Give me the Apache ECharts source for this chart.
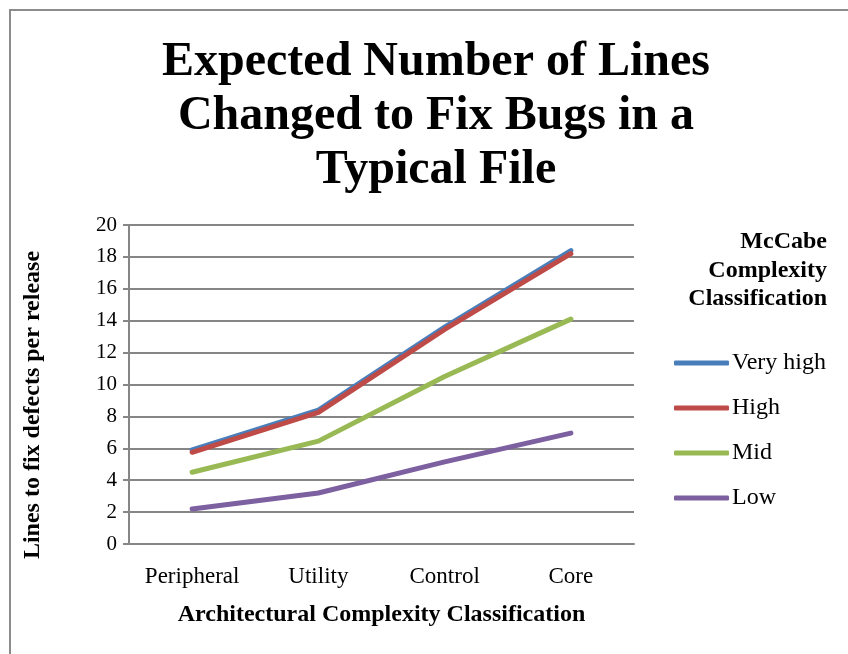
<!DOCTYPE html>
<html>
<head>
<meta charset="utf-8">
<script src="https://cdn.jsdelivr.net/npm/echarts@6/dist/echarts.min.js"></script>
<style>
  html, body { margin: 0; padding: 0; background: #fff; }
  #chart { width: 848px; height: 654px; }
</style>
</head>
<body>
<div id="chart"></div>
<script>
// Architectural classes along the x axis
const categories = ['Peripheral', 'Utility', 'Control', 'Core'];

// Lines changed per release, one series per McCabe class
const veryHigh = [5.9, 8.4, 13.6, 18.4];
const high = [5.75, 8.25, 13.45, 18.2];
const mid = [4.5, 6.45, 10.5, 14.1];
const low = [2.2, 3.2, 5.15, 6.95];

const yTicks = { min: 0, max: 20, interval: 2 };

const serif = '"Liberation Serif", "DejaVu Serif", serif';
const colors = ['#4A7EBB', '#BE4B48', '#98B954', '#7D60A0'];

const chart = echarts.init(document.getElementById('chart'), null, { renderer: 'canvas' });

function lineSeries(name, data, color) {
  return {
    name: name,
    type: 'line',
    data: data,
    symbol: 'none',
    color: color,
    lineStyle: { width: 5, color: color, cap: 'round', join: 'round' },
    emphasis: { disabled: true },
    animation: false
  };
}

chart.setOption({
  backgroundColor: '#ffffff',
  animation: false,
  textStyle: { fontFamily: serif },
  graphic: [
    {
      type: 'rect',
      shape: { x: 10, y: 10, width: 900, height: 700 },
      style: { fill: 'none', stroke: '#8c8c8c', lineWidth: 2 },
      z: 0
    },
    {
      // chart title, three centred lines
      type: 'text',
      x: 436,
      y: 36,
      style: {
        text: 'Expected Number of Lines\nChanged to Fix Bugs in a\nTypical File',
        font: 'bold 48px ' + serif,
        lineHeight: 54,
        textAlign: 'center',
        align: 'center',
        fill: '#000'
      }
    },
    {
      // legend heading, right aligned
      type: 'text',
      x: 827,
      y: 228,
      style: {
        text: 'McCabe\nComplexity\nClassification',
        font: 'bold 24px ' + serif,
        lineHeight: 28.5,
        textAlign: 'right',
        align: 'right',
        fill: '#000'
      }
    },
    {
      // y axis title, rotated
      type: 'text',
      x: 33,
      y: 405,
      rotation: Math.PI / 2,
      style: {
        text: 'Lines to fix defects per release',
        font: 'bold 24px ' + serif,
        textAlign: 'center',
        align: 'center',
        verticalAlign: 'middle',
        textVerticalAlign: 'middle',
        fill: '#000'
      }
    }
  ],
  legend: {
    orient: 'vertical',
    left: 674,
    top: 351,
    padding: 0,
    itemWidth: 55,
    itemHeight: 5,
    itemGap: 21,
    icon: 'roundRect',
    textStyle: { fontFamily: serif, fontSize: 24, color: '#000', lineHeight: 24, padding: [0, 0, 0, -2] },
    data: ['Very high', 'High', 'Mid', 'Low']
  },
  grid: { left: 129, right: 214, top: 225, bottom: 110, containLabel: false },
  xAxis: {
    type: 'category',
    data: categories,
    boundaryGap: true,
    name: 'Architectural Complexity Classification',
    nameLocation: 'middle',
    nameGap: 59,
    nameTextStyle: { fontFamily: serif, fontSize: 24, fontWeight: 'bold', color: '#000' },
    axisLine: { lineStyle: { color: '#868686', width: 2 } },
    axisTick: { show: false },
    axisLabel: { interval: 0, fontFamily: serif, fontSize: 23, color: '#000', margin: 21 },
    splitLine: { show: false }
  },
  yAxis: {
    type: 'value',
    min: yTicks.min,
    max: yTicks.max,
    interval: yTicks.interval,
    axisLine: { show: true, lineStyle: { color: '#868686', width: 2 } },
    axisTick: { show: true, length: 6, lineStyle: { color: '#868686', width: 2 } },
    axisLabel: { fontFamily: serif, fontSize: 21, color: '#000', margin: 12 },
    splitLine: { show: true, lineStyle: { color: '#868686', width: 2 } }
  },
  series: [
    lineSeries('Very high', veryHigh, colors[0]),
    lineSeries('High', high, colors[1]),
    lineSeries('Mid', mid, colors[2]),
    lineSeries('Low', low, colors[3])
  ]
});
</script>
</body>
</html>
